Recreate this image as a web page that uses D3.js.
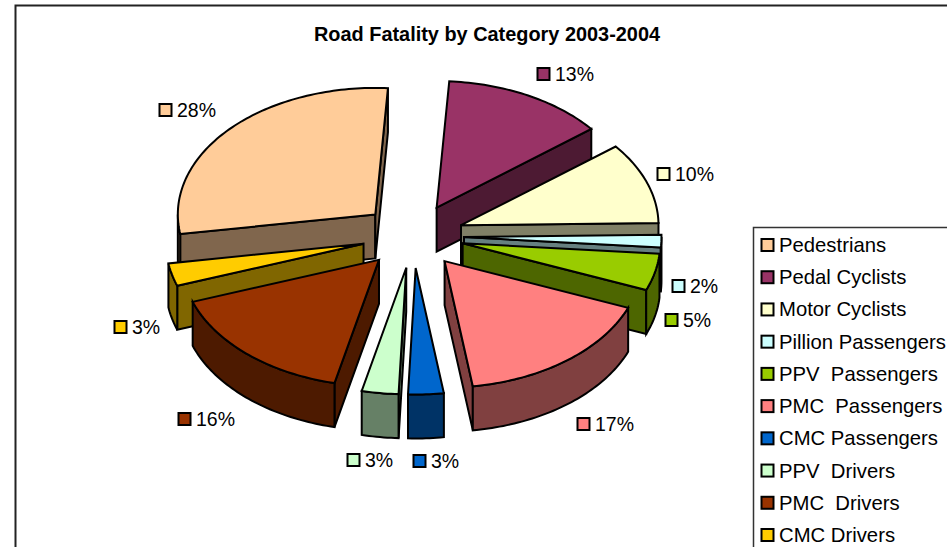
<!DOCTYPE html>
<html>
<head>
<meta charset="utf-8">
<script src="https://cdn.jsdelivr.net/npm/d3@7"></script>
<style>
html, body { margin: 0; padding: 0; background: #fff; overflow: hidden; }
text { font-family: "Liberation Sans", Arial, sans-serif; fill: #000; }
</style>
</head>
<body>
<div id="chart"></div>
<script>
const categories = ["Pedestrians", "Pedal Cyclists", "Motor Cyclists", "Pillion Passengers", "PPV  Passengers",
                    "PMC  Passengers", "CMC Passengers", "PPV  Drivers", "PMC  Drivers", "CMC Drivers"];
const shares = [28.49, 13.3, 10.4, 1.6, 4.7, 16.7, 2.9, 3.0, 16.0, 2.91];
const colors = ["#ffcc99", "#993366", "#ffffcc", "#ccffff", "#99cc00",
                "#ff8080", "#0066cc", "#ccffcc", "#993300", "#ffcc00"];
// [marker left, centre y] for each data label, same order as categories
const labelSpots = [[159, 110], [537, 74], [657, 174], [672, 286], [665, 320],
                    [577, 424], [413, 461], [347, 460], [178, 419], [114, 327]];

const width = 947, height = 547;
const cx = 413, cy = 236, rx = 197.5, ry = 126.5, depth = 44;
const explodeX = 51, explodeY = 32;
const startDeg = -98.9;

let svg = d3.select("#chart").append("svg")
    .attr("width", width)
    .attr("height", height)
    .style("display", "block");

let color = d3.scaleOrdinal(categories, colors);
let sideColor = c => {
    let k = d3.rgb(c);
    return d3.rgb(k.r * 0.5, k.g * 0.5, k.b * 0.5).formatHex();
};
let percent = d3.format(".0%");
let total = d3.sum(shares);

let pie = d3.pie()
    .sort(null)
    .startAngle(startDeg * Math.PI / 180)
    .endAngle((startDeg + 360) * Math.PI / 180)
    .value(d => d.share);

let slices = pie(categories.map((name, i) => ({ name: name, share: shares[i], spot: labelSpots[i] })));

// outer chart frame, runs off the right and bottom of the window
svg.append("path")
    .attr("d", "M15.5," + (height + 5) + "V5.5H" + (width + 5))
    .attr("fill", "none")
    .attr("stroke", "#222")
    .attr("stroke-width", 2);

svg.append("text")
    .attr("x", 487).attr("y", 41)
    .attr("text-anchor", "middle")
    .attr("font-size", 19.9)
    .attr("font-weight", "bold")
    .text("Road Fatality by Category 2003-2004");

let line = d3.line().curve(d3.curveLinear);

function apex(s) {
    let mid = (s.startAngle + s.endAngle) / 2;
    return [cx + explodeX * Math.sin(mid), cy - explodeY * Math.cos(mid)];
}

function rim(s, a) {
    let p = apex(s);
    return [p[0] + rx * Math.sin(a), p[1] - ry * Math.cos(a)];
}

function drop(p) {
    return [p[0], p[1] + depth];
}

function arcPoints(s, a0, a1) {
    let n = Math.max(2, Math.ceil((a1 - a0) / 0.02));
    return d3.range(n + 1).map(i => rim(s, a0 + (a1 - a0) * i / n));
}

function drawSlice(g, s) {
    let top = color(s.data.name);
    let side = sideColor(top);
    let p = apex(s);

    // cut faces, only those turned to the viewer
    if (Math.sin(s.startAngle) < 0) {
        let q = rim(s, s.startAngle);
        g.append("path").attr("d", line([p, q, drop(q), drop(p)]) + "Z").attr("fill", side);
    }
    if (Math.sin(s.endAngle) > 0) {
        let q = rim(s, s.endAngle);
        g.append("path").attr("d", line([p, q, drop(q), drop(p)]) + "Z").attr("fill", side);
    }

    // outer wall, front half of the rim only
    [0, -2 * Math.PI].forEach(shift => {
        let a0 = Math.max(s.startAngle, Math.PI / 2 + shift);
        let a1 = Math.min(s.endAngle, 3 * Math.PI / 2 + shift);
        if (a1 > a0) {
            let edge = arcPoints(s, a0, a1);
            g.append("path").attr("d", line(edge.concat(edge.map(drop).reverse())) + "Z").attr("fill", side);
        }
    });

    g.append("path")
        .attr("d", line([p].concat(arcPoints(s, s.startAngle, s.endAngle))) + "Z")
        .attr("fill", top);
}

let order = slices.slice().sort((a, b) => apex(a)[1] - apex(b)[1]);

let pieGroup = svg.append("g")
    .attr("stroke", "#000")
    .attr("stroke-width", 2)
    .attr("stroke-linejoin", "miter");

order.forEach(s => drawSlice(pieGroup.append("g"), s));

// data labels
let labels = svg.selectAll(".label").data(slices).enter().append("g")
    .attr("class", "label")
    .attr("transform", d => "translate(" + d.data.spot[0] + "," + d.data.spot[1] + ")");

labels.append("rect")
    .attr("x", 0.5).attr("y", -6)
    .attr("width", 12).attr("height", 12)
    .attr("fill", d => color(d.data.name))
    .attr("stroke", "#000").attr("stroke-width", 2);

labels.append("text")
    .attr("x", 18).attr("y", 7)
    .attr("font-size", 19.5)
    .text(d => percent(d.data.share / total));

// legend
let rowY = d3.scalePoint().domain(categories).range([245, 535]);

svg.append("rect")
    .attr("x", 753.5).attr("y", 227.5)
    .attr("width", 220).attr("height", 340)
    .attr("fill", "#fff").attr("stroke", "#333").attr("stroke-width", 1.5);

let rows = svg.selectAll(".row").data(categories).enter().append("g")
    .attr("class", "row")
    .attr("transform", d => "translate(761," + rowY(d) + ")");

rows.append("rect")
    .attr("x", 0.5).attr("y", -6)
    .attr("width", 12).attr("height", 12)
    .attr("fill", d => color(d))
    .attr("stroke", "#000").attr("stroke-width", 2);

rows.append("text")
    .attr("x", 18).attr("y", 7)
    .attr("font-size", 20.3)
    .style("white-space", "pre")
    .text(d => d);
</script>
</body>
</html>
